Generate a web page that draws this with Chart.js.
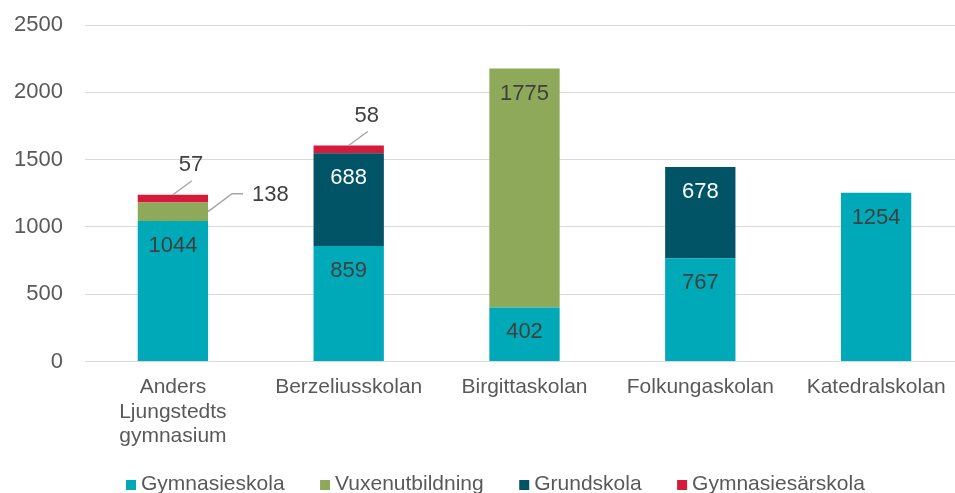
<!DOCTYPE html>
<html><head><meta charset="utf-8">
<script src="https://cdn.jsdelivr.net/npm/chart.js@4"></script>
<style>html,body{margin:0;padding:0;overflow:hidden;background:#fff;width:955px;height:493px}</style>
</head><body>
<canvas id="c" width="964" height="493" style="display:block;width:964px;height:493px"></canvas>
<script>
const categories = [['Anders','Ljungstedts','gymnasium'],'Berzeliusskolan','Birgittaskolan','Folkungaskolan','Katedralskolan'];
const seriesNames = ['Gymnasieskola','Vuxenutbildning','Grundskola','Gymnasiesärskola'];
const gymnasieskola = [1044, 859, 402, 767, 1254];
const vuxenutbildning = [138, 0, 1775, 0, 0];
const grundskola = [0, 688, 0, 678, 0];
const gymnasiesarskola = [57, 58, 0, 0, 0];
const yTicks = [0, 500, 1000, 1500, 2000, 2500];
const colors = ['#00A9B7', '#8EA95A', '#005465', '#D51A3C'];
const labelColors = ['#404040', '#404040', '#ffffff', '#404040'];
const callouts = [
  {series: 3, index: 0, side: 'top'},
  {series: 1, index: 0, side: 'right'},
  {series: 3, index: 1, side: 'top'}
];
const FONT = '"Liberation Sans", Arial, sans-serif';

const labelPlugin = {
  id: 'valueLabels',
  afterDatasetsDraw(chart) {
    const ctx = chart.ctx;
    ctx.save();
    ctx.font = '22px ' + FONT;
    chart.data.datasets.forEach((ds, si) => {
      const meta = chart.getDatasetMeta(si);
      meta.data.forEach((bar, i) => {
        const v = ds.data[i];
        if (!v) return;
        const co = callouts.find(c => c.series === si && c.index === i);
        if (!co) {
          ctx.fillStyle = labelColors[si];
          ctx.textAlign = 'center'; ctx.textBaseline = 'middle';
          ctx.fillText(String(v), bar.x, bar.y + 25);
        } else if (co.side === 'top') {
          ctx.strokeStyle = '#A6A6A6'; ctx.lineWidth = 1.5;
          ctx.beginPath(); ctx.moveTo(bar.x, bar.y); ctx.lineTo(bar.x + 19, bar.y - 14); ctx.stroke();
          ctx.fillStyle = '#404040'; ctx.textAlign = 'center'; ctx.textBaseline = 'middle';
          ctx.fillText(String(v), bar.x + 18, bar.y - 30);
        } else {
          const cy = (bar.y + bar.base) / 2, rx = bar.x + bar.width / 2;
          ctx.strokeStyle = '#A6A6A6'; ctx.lineWidth = 1.5;
          ctx.beginPath(); ctx.moveTo(rx, cy); ctx.lineTo(rx + 24, cy - 18); ctx.lineTo(rx + 35, cy - 18); ctx.stroke();
          ctx.fillStyle = '#404040'; ctx.textAlign = 'left'; ctx.textBaseline = 'middle';
          ctx.fillText(String(v), rx + 44, cy - 17);
        }
      });
    });
    ctx.restore();
  }
};

const legendPlugin = {
  id: 'customLegend',
  afterDraw(chart) {
    const ctx = chart.ctx;
    ctx.save();
    ctx.font = '21px ' + FONT;
    ctx.textBaseline = 'alphabetic'; ctx.textAlign = 'left';
    let x = 126;
    const boxTop = 480, baseline = 490;
    chart.data.datasets.forEach((ds) => {
      ctx.fillStyle = ds.backgroundColor;
      ctx.fillRect(x, boxTop, 10, 10);
      ctx.fillStyle = '#595959';
      ctx.fillText(ds.label, x + 15, baseline);
      x += 15 + ctx.measureText(ds.label).width + 35.5;
    });
    ctx.restore();
  }
};

const seriesValues = [gymnasieskola, vuxenutbildning, grundskola, gymnasiesarskola];
new Chart(document.getElementById('c'), {
  type: 'bar',
  data: {
    labels: categories,
    datasets: seriesNames.map((n, k) => ({
      label: n, data: seriesValues[k], backgroundColor: colors[k],
      barPercentage: 0.4, categoryPercentage: 1.0, borderWidth: 0
    }))
  },
  options: {
    responsive: false, animation: false,
    layout: {padding: {left: 15, right: 0, top: 25, bottom: 31}},
    plugins: {legend: {display: false}, tooltip: {enabled: false}},
    scales: {
      x: {
        stacked: true,
        grid: {display: false, drawTicks: false}, border: {display: false},
        ticks: {font: {size: 21, family: FONT, lineHeight: 1.15}, color: '#595959', padding: 14, maxRotation: 0, minRotation: 0, autoSkip: false}
      },
      y: {
        stacked: true, min: 0, max: 2500,
        afterBuildTicks: s => { s.ticks = yTicks.map(v => ({value: v})); },
        afterFit: s => { s.width = 70; },
        ticks: {font: {size: 22, family: FONT, lineHeight: 0.2}, color: '#595959', padding: 22, autoSkip: false, callback: v => String(v)},
        grid: {color: '#D9D9D9', lineWidth: 1, drawTicks: false}, border: {display: false}
      }
    }
  },
  plugins: [labelPlugin, legendPlugin]
});
</script>
</body></html>
